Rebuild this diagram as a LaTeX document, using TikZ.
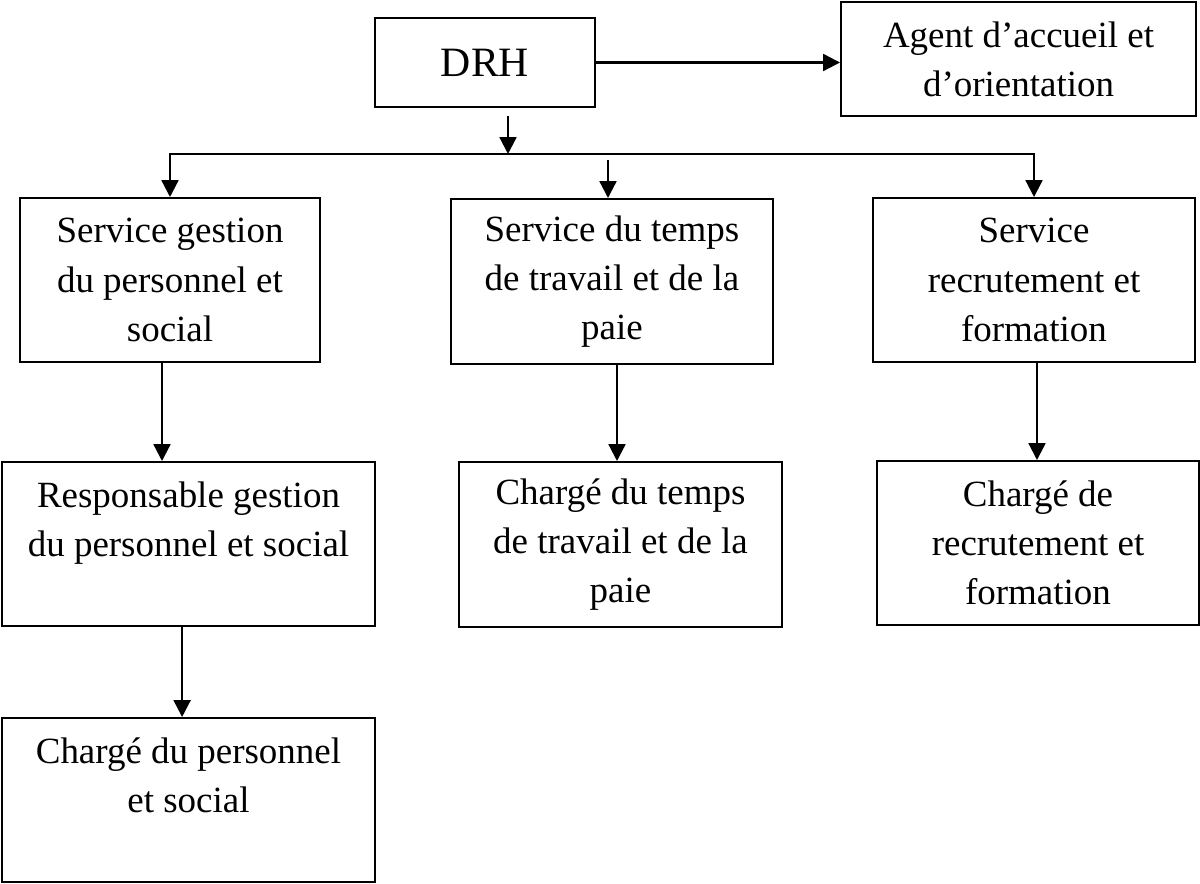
\documentclass[tikz,border=0pt]{standalone}
\usepackage{fontspec}
\setmainfont{Liberation Serif}
\usetikzlibrary{positioning,arrows.meta}

\begin{document}
\begin{tikzpicture}[
  box/.style={draw, line width=1.4pt, align=center, inner sep=0pt, font=\fontsize{26.3}{34.9}\selectfont},
  arrow/.style={->, line width=1.6pt, >={Triangle[length=0.42cm, width=0.42cm]}}
]
  \useasboundingbox (0,0) rectangle (30,22.075);

  \node[box, minimum width=5.5cm, minimum height=2.225cm, font=\fontsize{29.7}{36}\selectfont] (drh) at (12.125,20.5125) {DRH};
  \node[box, minimum width=8.875cm, minimum height=2.85cm] (agent) at (25.4625,20.6) {Agent d’accueil et\\d’orientation};

  \node[box, minimum width=7.5cm, minimum height=4.1cm] (sgp) at (4.25,15.075) {Service gestion\\du personnel et\\social};
  \node[box, minimum width=8.05cm, minimum height=4.125cm] (stp) at (15.3,15.0375) {Service du temps\\de travail et de la\\paie};
  \node[box, minimum width=8.05cm, minimum height=4.1cm] (srf) at (25.85,15.075) {Service\\recrutement et\\formation};

  \node[box, minimum width=9.325cm, minimum height=4.1cm] (rgp) at (4.7125,8.475) {Responsable gestion\\du personnel et social\\~};
  \node[box, minimum width=8.075cm, minimum height=4.125cm] (ctp) at (15.5125,8.4625) {Chargé du temps\\de travail et de la\\paie};
  \node[box, minimum width=8.05cm, minimum height=4.1cm] (crf) at (25.95,8.5) {Chargé de\\recrutement et\\formation};

  \node[box, minimum width=9.325cm, minimum height=4.1cm] (cps) at (4.7125,2.075) {Chargé du personnel\\et social\\~};

  \coordinate (bus) at (12.7,18.225);

  \draw[arrow] (drh.east) -- (drh.east -| agent.west);
  \draw[arrow] ([xshift=0.575cm,yshift=-0.2cm]drh.south) -- (bus);
  \draw[arrow, <->] (sgp.north) |- (bus) -| (srf.north);
  \draw[arrow] ([xshift=-0.1cm,yshift=-0.15cm]bus -| stp.north) -- ([xshift=-0.1cm]stp.north);

  \draw[arrow] ([xshift=-0.2cm]sgp.south) -- ([xshift=-0.2cm]sgp.south |- rgp.north);
  \draw[arrow] ([xshift=0.125cm]stp.south) -- ([xshift=0.125cm]stp.south |- ctp.north);
  \draw[arrow] ([xshift=0.075cm]srf.south) -- ([xshift=0.075cm]srf.south |- crf.north);
  \draw[arrow] ([xshift=-0.16cm]rgp.south) -- ([xshift=-0.16cm]rgp.south |- cps.north);
\end{tikzpicture}
\end{document}
